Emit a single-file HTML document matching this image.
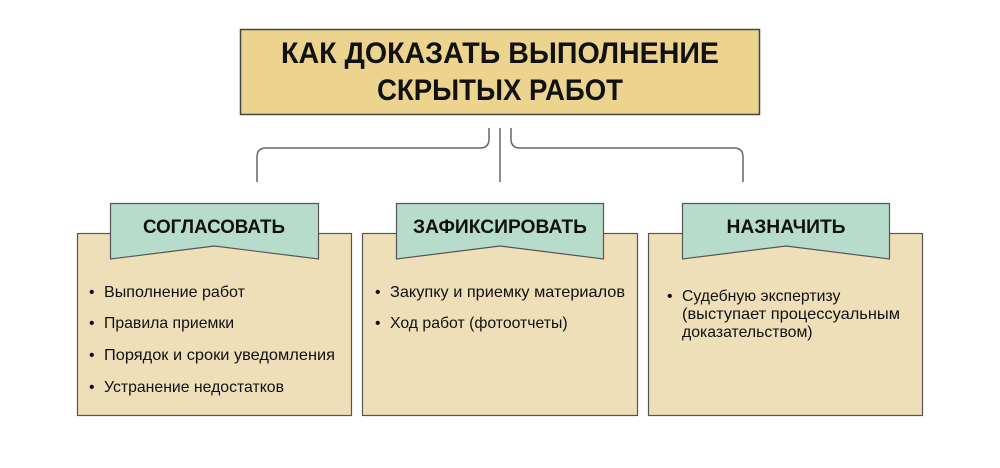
<!DOCTYPE html>
<html><head><meta charset="utf-8"><style>html,body{margin:0;padding:0;background:#fff}svg{display:block}</style></head>
<body>
<svg width="1000" height="468" xmlns="http://www.w3.org/2000/svg" font-family="Liberation Sans, sans-serif">
<rect x="240.5" y="29.5" width="519" height="85" fill="#ecd48f" stroke="#444" stroke-width="1.5"/>
<text x="500" y="63" text-anchor="middle" font-size="30" font-weight="bold" fill="#111" textLength="438" lengthAdjust="spacingAndGlyphs">КАК ДОКАЗАТЬ ВЫПОЛНЕНИЕ</text>
<text x="500" y="100" text-anchor="middle" font-size="30" font-weight="bold" fill="#111" textLength="246" lengthAdjust="spacingAndGlyphs">СКРЫТЫХ РАБОТ</text>
<g fill="none" stroke="#666" stroke-width="1.5">
<path d="M257 182 V157 Q257 148 266 148 H480 Q489 148 489 139 V128"/>
<path d="M500 128 V182"/>
<path d="M743 182 V157 Q743 148 734 148 H520 Q511 148 511 139 V128"/>
</g>
<g stroke="#555" stroke-width="1.2">
<rect x="77.5" y="233.5" width="274" height="182" fill="#eedfb8"/>
<rect x="362.5" y="233.5" width="275" height="182" fill="#eedfb8"/>
<rect x="648.5" y="233.5" width="274" height="182" fill="#eedfb8"/>
<polygon points="110.5,203.5 318.5,203.5 318.5,259 214.5,246 110.5,259" fill="#b8dccb"/>
<polygon points="396.5,203.5 603.5,203.5 603.5,259 500,246 396.5,259" fill="#b8dccb"/>
<polygon points="682.5,203.5 889.5,203.5 889.5,259 786,246 682.5,259" fill="#b8dccb"/>
</g>
<g font-size="19" font-weight="bold" fill="#111" text-anchor="middle" lengthAdjust="spacingAndGlyphs">
<text x="214" y="233" textLength="142" lengthAdjust="spacingAndGlyphs">СОГЛАСОВАТЬ</text>
<text x="500" y="233" textLength="174" lengthAdjust="spacingAndGlyphs">ЗАФИКСИРОВАТЬ</text>
<text x="786" y="233" textLength="119" lengthAdjust="spacingAndGlyphs">НАЗНАЧИТЬ</text>
</g>
<g font-size="15.8" fill="#111">
<text x="89" y="297">•</text><text x="104" y="297" textLength="141" lengthAdjust="spacingAndGlyphs">Выполнение работ</text>
<text x="89" y="328">•</text><text x="104" y="328">Правила приемки</text>
<text x="89" y="360">•</text><text x="104" y="360" textLength="231" lengthAdjust="spacingAndGlyphs">Порядок и сроки уведомления</text>
<text x="89" y="392">•</text><text x="104" y="392">Устранение недостатков</text>
<text x="375" y="297">•</text><text x="390" y="297" textLength="235" lengthAdjust="spacingAndGlyphs">Закупку и приемку материалов</text>
<text x="375" y="328">•</text><text x="390" y="328">Ход работ (фотоотчеты)</text>
<text x="667" y="301">•</text><text x="682" y="301">Судебную экспертизу</text>
<text x="682" y="319" textLength="218" lengthAdjust="spacingAndGlyphs">(выступает процессуальным</text>
<text x="682" y="337">доказательством)</text>
</g>
</svg>
</body></html>
